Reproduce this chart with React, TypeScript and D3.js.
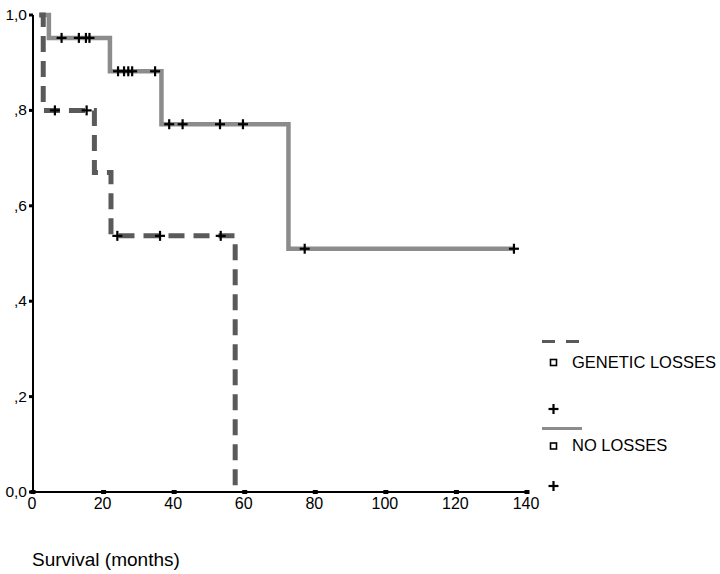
import React from "react";
import * as d3 from "d3";

// Kaplan-Meier step data (time in months, cumulative survival)
const noLossTimes = [1.8, 4.5, 21.8, 36.4, 72.4, 136.3];
const noLossSurv = [1.0, 0.952, 0.882, 0.771, 0.51, 0.51];
const noLossCensor = [8.1, 13.0, 15.0, 16.0, 24.1, 25.8, 27.0, 28.1, 34.6, 38.6, 42.4, 53.0, 59.5, 77.0, 136.3];

const geneticTimes = [1.8, 2.9, 17.4, 22.1, 57.3];
const geneticSurv = [1.0, 0.8, 0.67, 0.537, 0.0];
const geneticCensor = [6.2, 15.2, 23.9, 36.0, 53.2];

const xTicks = [0, 20, 40, 60, 80, 100, 120, 140];
const yTicks = [0, 0.2, 0.4, 0.6, 0.8, 1.0];
const yTickLabels = ["0,0", ",2", ",4", ",6", ",8", "1,0"];
const legendLabels = ["GENETIC LOSSES", "NO LOSSES"];

const FONT = "'Liberation Sans', Arial, Helvetica, sans-serif";

function survAt(times: number[], surv: number[], t: number) {
  let s = surv[0];
  for (let i = 0; i < times.length; i++) if (times[i] <= t) s = surv[i];
  return s;
}

export default function App() {
  const x = d3.scaleLinear().domain([0, 140]).range([33, 527]);
  const y = d3.scaleLinear().domain([0, 1]).range([492, 15]);
  const line = d3
    .line<[number, number]>()
    .x((d) => x(d[0]))
    .y((d) => y(d[1]))
    .curve(d3.curveStepAfter);

  const noLossPts = noLossTimes.map((t, i) => [t, noLossSurv[i]] as [number, number]);
  const genPts = geneticTimes.map((t, i) => [t, geneticSurv[i]] as [number, number]);

  const plus = (cx: number, cy: number, key: string, arm = 5) => (
    <g key={key} stroke="#000" strokeWidth={2.2}>
      <line x1={cx - arm} x2={cx + arm} y1={cy} y2={cy} />
      <line x1={cx} x2={cx} y1={cy - arm} y2={cy + arm} />
    </g>
  );

  return (
    <svg
      width={720}
      height={574}
      style={{ position: "absolute", left: 0, top: 0, background: "#fff" }}
      fontFamily={FONT}
    >
      <rect width={720} height={574} fill="#fff" />
      {/* axes */}
      <line x1={33} x2={33} y1={y(1)} y2={y(0)} stroke="#000" strokeWidth={2} />
      <line x1={x(0)} x2={x(140)} y1={y(0)} y2={y(0)} stroke="#000" strokeWidth={2} />
      {yTicks.map((v, i) => (
        <g key={"yt" + i}>
          <rect x={29} y={y(v) - 1.5} width={4} height={3} fill="#000" />
          <text x={27} y={y(v) + 5} fontSize={15.5} textAnchor="end" fill="#000">
            {yTickLabels[i]}
          </text>
        </g>
      ))}
      {xTicks.map((v) => (
        <g key={"xt" + v}>
          <rect x={x(v) - 2.5} y={y(0) - 2} width={5} height={4} fill="#000" />
          <text x={x(v) - 1} y={509} fontSize={16} textAnchor="middle" fill="#000">
            {v}
          </text>
        </g>
      ))}
      <text x={32} y={566} fontSize={19} fill="#000">
        Survival (months)
      </text>

      {/* curves */}
      <path d={line(noLossPts) || ""} fill="none" stroke="#8c8c8c" strokeWidth={4.5} />
      <path
        d={line(genPts) || ""}
        fill="none"
        stroke="#5a5a5a"
        strokeWidth={5}
        strokeDasharray="16,9"
      />
      {noLossCensor.map((t, i) => plus(x(t), y(survAt(noLossTimes, noLossSurv, t)), "nc" + i))}
      {geneticCensor.map((t, i) => plus(x(t), y(survAt(geneticTimes, geneticSurv, t)), "gc" + i))}

      {/* legend */}
      <line x1={542} x2={582} y1={341.5} y2={341.5} stroke="#5a5a5a" strokeWidth={3} strokeDasharray="13,11" />
      <rect x={550.5} y={359.5} width={6} height={6} fill="#fff" stroke="#000" strokeWidth={1.6} />
      <text x={572} y={368} fontSize={16.5} fill="#000">
        {legendLabels[0]}
      </text>
      {plus(553.5, 409, "lg1", 5)}
      <line x1={542} x2={582} y1={428.5} y2={428.5} stroke="#8c8c8c" strokeWidth={3} />
      <rect x={550.5} y={443} width={6} height={6} fill="#fff" stroke="#000" strokeWidth={1.6} />
      <text x={572} y={451} fontSize={16.5} fill="#000">
        {legendLabels[1]}
      </text>
      {plus(553.5, 486, "lg2", 5)}
    </svg>
  );
}
